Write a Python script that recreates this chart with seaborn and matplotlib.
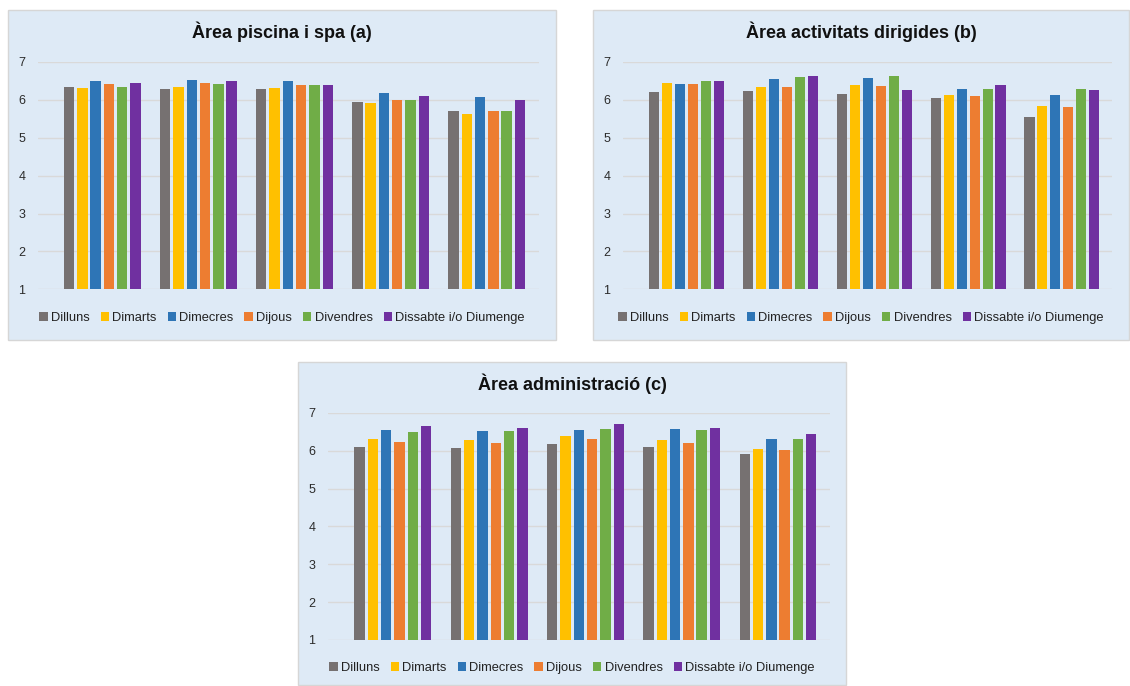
import matplotlib
matplotlib.use("Agg")
import matplotlib.pyplot as plt
from matplotlib.patches import Rectangle
import seaborn as sns
import pandas as pd

# Days of the week (hue) and the five survey items per area (x groups)
days = ["Dilluns", "Dimarts", "Dimecres", "Dijous", "Divendres", "Dissabte i/o Diumenge"]
items = ["1", "2", "3", "4", "5"]
day_colors = ["#767171", "#FFC000", "#2E75B6", "#ED7D31", "#70AD47", "#7030A0"]

# Mean scores, one list per day, one value per item
piscina = {
    "Dilluns":               [6.35, 6.30, 6.30, 5.94, 5.71],
    "Dimarts":               [6.32, 6.35, 6.32, 5.93, 5.63],
    "Dimecres":              [6.51, 6.53, 6.51, 6.19, 6.07],
    "Dijous":                [6.42, 6.45, 6.38, 5.99, 5.71],
    "Divendres":             [6.35, 6.43, 6.38, 6.00, 5.70],
    "Dissabte i/o Diumenge": [6.45, 6.51, 6.39, 6.11, 6.00],
}
activitats = {
    "Dilluns":               [6.21, 6.23, 6.15, 6.05, 5.55],
    "Dimarts":               [6.44, 6.34, 6.39, 6.13, 5.84],
    "Dimecres":              [6.43, 6.55, 6.58, 6.29, 6.13],
    "Dijous":                [6.43, 6.34, 6.36, 6.10, 5.81],
    "Divendres":             [6.50, 6.60, 6.63, 6.29, 6.29],
    "Dissabte i/o Diumenge": [6.50, 6.63, 6.26, 6.39, 6.26],
}
administracio = {
    "Dilluns":               [6.11, 6.08, 6.19, 6.11, 5.92],
    "Dimarts":               [6.32, 6.29, 6.40, 6.29, 6.06],
    "Dimecres":              [6.56, 6.53, 6.56, 6.59, 6.32],
    "Dijous":                [6.24, 6.21, 6.32, 6.21, 6.03],
    "Divendres":             [6.51, 6.53, 6.59, 6.56, 6.32],
    "Dissabte i/o Diumenge": [6.66, 6.61, 6.72, 6.61, 6.45],
}
titles = ["Àrea piscina i spa (a)", "Àrea activitats dirigides (b)", "Àrea administració (c)"]
y_ticks = [1, 2, 3, 4, 5, 6, 7]

sns.set_theme(style="white")
plt.rcParams["font.family"] = ["Liberation Sans", "DejaVu Sans"]

W, H = 1130, 686
fig = plt.figure(figsize=(W / 100, H / 100), dpi=100)
fig.patch.set_facecolor("white")


def px_box(x0, y0, x1, y1):
    """Pixel box (top-left origin) -> figure fraction [left, bottom, width, height]."""
    return [x0 / W, 1 - y1 / H, (x1 - x0) / W, (y1 - y0) / H]


def long_table(values):
    rows = []
    for d in days:
        for it, v in zip(items, values[d]):
            rows.append({"item": it, "day": d, "score": v})
    return pd.DataFrame(rows)


panels = [
    # data, chart frame, plot box (px), first group centre (px), group pitch (px), title y, legend y
    (piscina, (8, 10, 556, 340), (37.7, 62.0, 539.0, 289.3), 102.3, 96.1, 32, 318),
    (activitats, (593, 10, 1129, 340), (622.7, 62.0, 1112.0, 289.3), 686.7, 93.8, 32, 318),
    (administracio, (298, 362, 846, 685), (327.7, 413.0, 830.0, 640.0), 392.8, 96.3, 384, 668),
]

for (data, frame, box, c0, pitch, ty, ly), title in zip(panels, titles):
    fx0, fy0, fx1, fy1 = frame
    fig.patches.append(Rectangle((fx0 / W, 1 - fy1 / H), (fx1 - fx0) / W, (fy1 - fy0) / H,
                                 transform=fig.transFigure, facecolor="#DEEAF6",
                                 edgecolor="#D6D6D6", linewidth=1.0, zorder=-5))

    ax = fig.add_axes(px_box(*box))
    ax.set_zorder(2)
    ax.set_facecolor("none")
    ax.patch.set_alpha(0)
    sns.barplot(data=long_table(data), x="item", y="score", hue="day",
                hue_order=days, palette=day_colors, order=items,
                width=0.83, gap=0.22, saturation=1, ax=ax, legend=False,
                edgecolor="none", linewidth=0)
    ax.set_ylim(1, 7)
    ax.set_xlim(-(c0 - box[0]) / pitch, (box[2] - c0) / pitch)
    ax.set_yticks(y_ticks)
    ax.set_yticklabels([str(t) for t in y_ticks], fontsize=9, color="#2b2b2b")
    ax.set_xticks([])
    ax.set_xlabel("")
    ax.set_ylabel("")
    ax.tick_params(axis="y", length=0, pad=9)
    ax.yaxis.grid(True, color="#D9D9D9", linewidth=1.0)
    ax.set_axisbelow(True)
    for s in ax.spines.values():
        s.set_visible(False)

    cx = (fx0 + fx1) / 2
    fig.text(cx / W, 1 - ty / H, title, ha="center", va="center",
             fontsize=13, fontweight="bold", color="#111111")

    handles = [Rectangle((0, 0), 1, 1, facecolor=c, edgecolor="none") for c in day_colors]
    fig.legend(handles, days, loc="center", bbox_to_anchor=(cx / W, 1 - ly / H),
               ncol=6, frameon=False, fontsize=9.3, handlelength=0.65, handleheight=0.65,
               handletextpad=0.25, columnspacing=0.85, borderpad=0, labelcolor="#222222")

fig.savefig("out.png", dpi=100, facecolor="white")
